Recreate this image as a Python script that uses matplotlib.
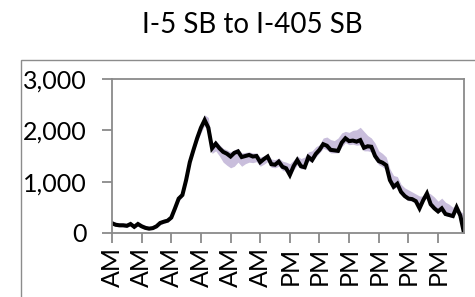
import matplotlib
matplotlib.use("Agg")
import matplotlib.pyplot as plt
from matplotlib.patches import Rectangle
import numpy as np

title = "I-5 SB to I-405 SB"
# 15-minute intervals across the day (96 samples)
volume = [190, 160, 150, 150, 140, 175, 120, 175, 130, 100, 85, 95, 130, 195, 220, 240,
          300, 480, 670, 740, 1030, 1380, 1620, 1850, 2050, 2200, 2050, 1650, 1740, 1650, 1580, 1545,
          1490, 1560, 1590, 1480, 1500, 1520, 1490, 1500, 1380, 1440, 1490, 1340, 1330, 1390, 1290, 1260,
          1130, 1300, 1420, 1300, 1280, 1480, 1420, 1540, 1620, 1730, 1700, 1620, 1610, 1600, 1760, 1845,
          1790, 1800, 1780, 1810, 1660, 1690, 1680, 1500, 1400, 1370, 1320, 1030, 900, 960, 800, 720,
          670, 660, 620, 480, 640, 770, 560, 480, 420, 480, 370, 350, 330, 500, 340, 0]
band_upper = [240, 210, 200, 200, 190, 220, 170, 220, 180, 150, 130, 140, 180, 240, 270, 290,
              350, 540, 740, 800, 1100, 1450, 1700, 1950, 2150, 2300, 2250, 1750, 1800, 1720, 1650, 1620,
              1580, 1620, 1650, 1560, 1570, 1580, 1560, 1560, 1480, 1500, 1540, 1440, 1430, 1460, 1400, 1380,
              1350, 1420, 1500, 1450, 1480, 1580, 1600, 1680, 1720, 1850, 1870, 1820, 1800, 1850, 1950, 1980,
              1960, 2000, 2010, 2060, 1980, 1900, 1850, 1750, 1600, 1550, 1480, 1250, 1120, 1100, 950, 880,
              840, 800, 760, 720, 720, 800, 760, 700, 620, 680, 600, 560, 500, 560, 420, 380]
band_lower = [160, 130, 120, 120, 110, 140, 90, 140, 100, 70, 60, 70, 100, 160, 190, 210,
              270, 440, 620, 700, 980, 1320, 1570, 1780, 1950, 2100, 1900, 1550, 1600, 1500, 1380, 1320,
              1270, 1300, 1380, 1300, 1350, 1380, 1370, 1390, 1300, 1340, 1390, 1280, 1270, 1300, 1220, 1200,
              1100, 1220, 1330, 1250, 1250, 1400, 1380, 1480, 1560, 1650, 1620, 1560, 1560, 1560, 1680, 1760,
              1720, 1730, 1710, 1720, 1600, 1600, 1580, 1420, 1330, 1290, 1230, 980, 860, 900, 760, 680,
              630, 620, 580, 450, 600, 720, 520, 440, 390, 440, 340, 320, 300, 450, 300, 250]
tick_labels = ["AM"] * 6 + ["PM"] * 6
y_ticks = [0, 1000, 2000, 3000]

plt.rcParams['font.family'] = ['Lato', 'DejaVu Sans']

W, H = 475, 297
fig = plt.figure(figsize=(W / 100, H / 100), dpi=100)
fig.patch.set_facecolor("white")

# outer chart frame
fig.patches.append(Rectangle((21 / W, -0.5), 2.0, 1 - 60 / H + 0.5, transform=fig.transFigure,
                             fill=False, edgecolor="#8c8c8c", linewidth=1.0))

ax = fig.add_axes([112 / W, 1 - 233 / H, (464 - 112) / W, (233 - 79) / H])
x = np.arange(len(volume))
ax.fill_between(x, band_lower, band_upper, color="#c9bedc", linewidth=0)
ax.plot(x, volume, color="black", linewidth=2.9, solid_joinstyle="miter")

ax.set_xlim(0, len(volume) - 1)
ax.set_ylim(0, 3000)
ax.set_yticks(y_ticks)
ax.set_yticklabels([f"{v:,}" for v in y_ticks])
ax.set_xticks(np.arange(0, len(volume), 8))
ax.set_xticklabels(tick_labels, rotation=90, va="top", ha="center")

for s in ax.spines.values():
    s.set_color("#8a8a8a")
    s.set_linewidth(1.3)
ax.tick_params(axis="both", colors="#8a8a8a", length=7, width=1.3, labelcolor="black", labelsize=18)
ax.tick_params(axis="y", pad=11)
ax.tick_params(axis="x", pad=3)

fig.text(252 / W, 1 - 25 / H, title, ha="center", va="center", fontsize=20, color="black")

fig.savefig("out.png", dpi=100)
